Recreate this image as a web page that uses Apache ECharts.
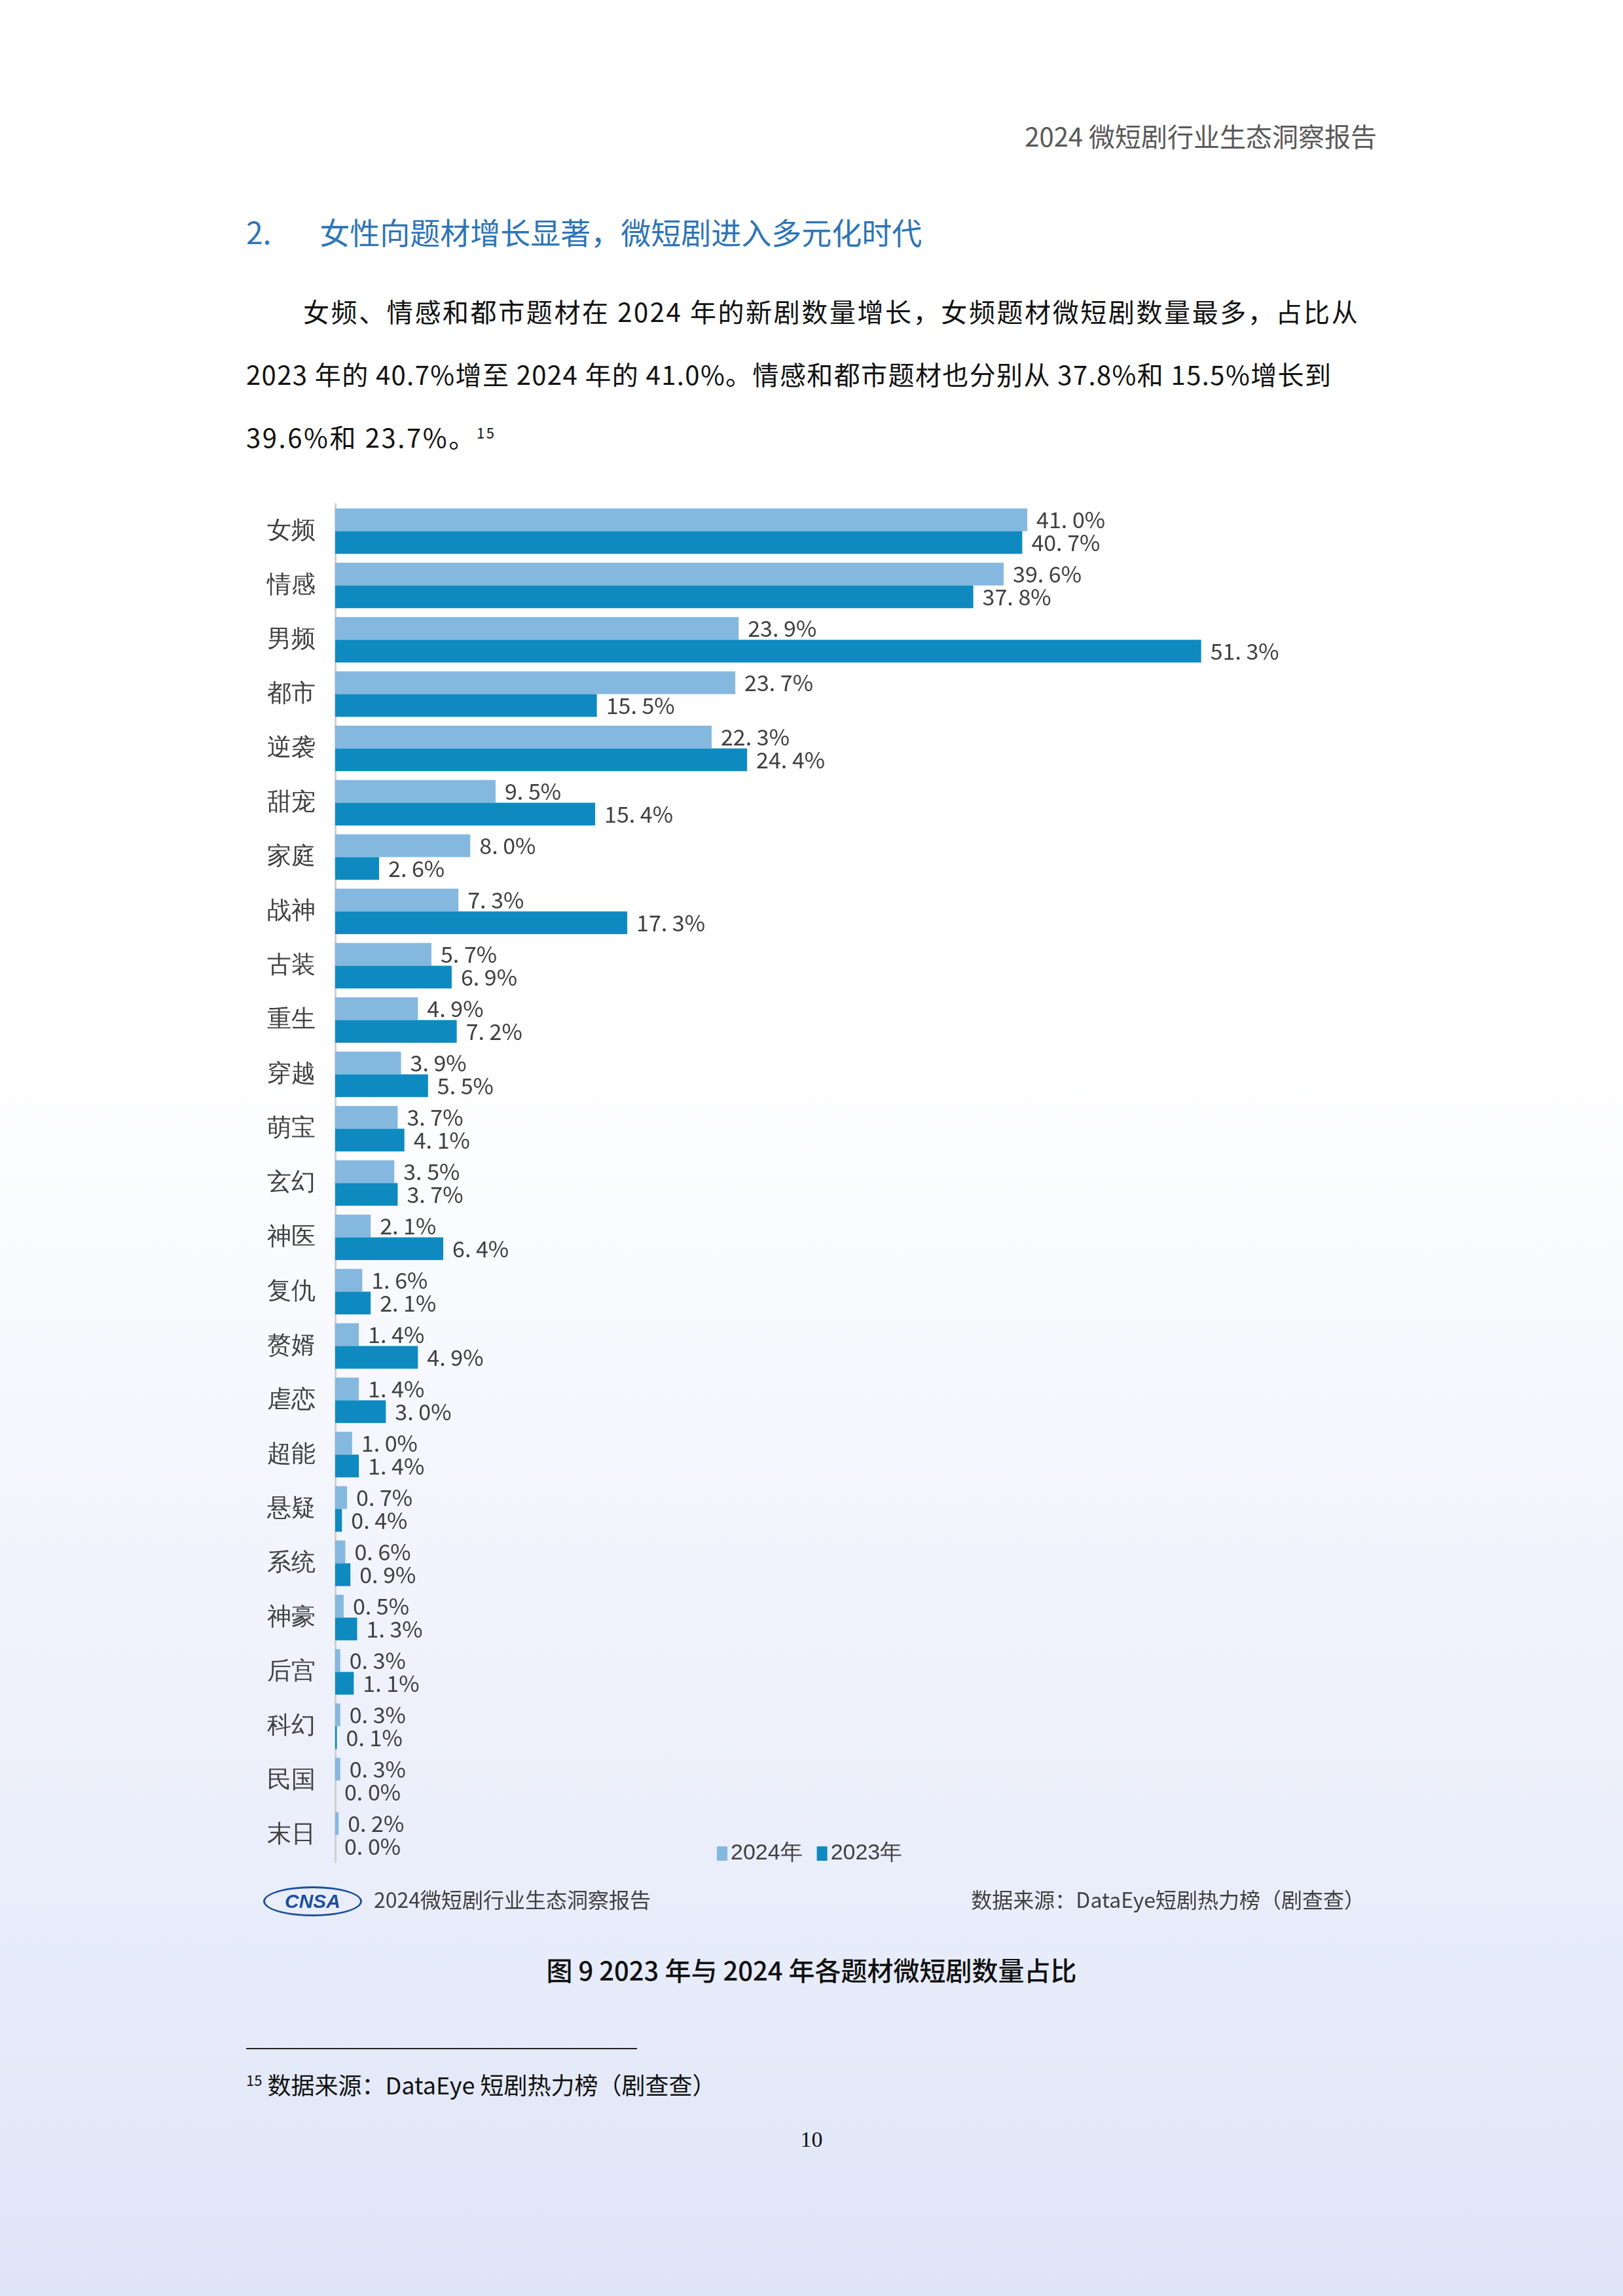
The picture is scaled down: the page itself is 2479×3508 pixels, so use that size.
<!DOCTYPE html>
<html><head><meta charset="utf-8">
<script src="https://cdn.jsdelivr.net/npm/echarts@6/dist/echarts.min.js"></script>
<style>
html,body{margin:0;padding:0;}
body{width:2479px;height:3508px;position:relative;background:linear-gradient(#ffffff 0%,#ffffff 45%,#dfe5f8 100%);font-family:"Noto Sans CJK SC",sans-serif;overflow:hidden;}
.t{position:absolute;white-space:nowrap;}
.p{letter-spacing:2.6px;}
#chart{position:absolute;left:0;top:720px;width:2479px;height:2250px;}
</style></head><body>
<div class="t" style="right:376px;top:178px;font-size:40px;color:#595959;">2024 微短剧行业生态洞察报告</div>
<div class="t" style="left:376px;top:320px;font-size:46px;color:#2e75b6;">2.<span style="display:inline-block;width:74px"></span>女性向题材增长显著，微短剧进入多元化时代</div>
<div class="t p" style="left:463px;top:446px;font-size:40px;color:#111;">女频、情感和都市题材在 2024 年的新剧数量增长，女频题材微短剧数量最多，占比从</div>
<div class="t p" style="left:376px;top:542px;font-size:40px;color:#111;letter-spacing:1.4px">2023 年的 40.7%增至 2024 年的 41.0%。情感和都市题材也分别从 37.8%和 15.5%增长到</div>
<div class="t p" style="left:376px;top:638px;font-size:40px;color:#111;">39.6%和 23.7%。<sup style="font-size:22px">15</sup></div>
<div id="chart"></div>
<div class="t" style="left:402px;top:2882px;width:145px;height:40px;border-radius:50%;border:3px solid #1c4fa0;color:#1c4fa0;font-weight:bold;font-style:italic;font-size:30px;line-height:40px;text-align:center;font-family:'Liberation Sans'">CNSA</div>
<div class="t" style="left:571px;top:2878px;font-size:32px;color:#404040;">2024微短剧行业生态洞察报告</div>
<div class="t" style="right:394px;top:2878px;font-size:32px;color:#404040;">数据来源：DataEye短剧热力榜（剧查查）</div>
<div class="t" style="left:0;width:2479px;text-align:center;top:2980px;font-size:40px;color:#111;font-weight:500;">图 9 2023 年与 2024 年各题材微短剧数量占比</div>
<div class="t" style="left:376px;top:3129px;width:597px;height:2px;background:#222;"></div>
<div class="t" style="left:376px;top:3158px;font-size:36px;color:#111;"><sup style="font-size:22px">15</sup> 数据来源：DataEye 短剧热力榜（剧查查）</div>
<div class="t" style="left:0;width:2479px;text-align:center;top:3250px;font-size:34px;color:#111;font-family:'Liberation Serif'">10</div>
<script>
const categories=["女频","情感","男频","都市","逆袭","甜宠","家庭","战神","古装","重生","穿越","萌宝","玄幻","神医","复仇","赘婿","虐恋","超能","悬疑","系统","神豪","后宫","科幻","民国","末日"];
const v2024=[41.0,39.6,23.9,23.7,22.3,9.5,8.0,7.3,5.7,4.9,3.9,3.7,3.5,2.1,1.6,1.4,1.4,1.0,0.7,0.6,0.5,0.3,0.3,0.3,0.2];
const v2023=[40.7,37.8,51.3,15.5,24.4,15.4,2.6,17.3,6.9,7.2,5.5,4.1,3.7,6.4,2.1,4.9,3.0,1.4,0.4,0.9,1.3,1.1,0.1,0.0,0.0];
const fmt=p=>p.value.toFixed(1).replace('.','. ')+'%';
const lbl={show:true,position:'right',distance:14,formatter:fmt,color:'#404040',fontSize:34,fontFamily:'Noto Sans CJK SC'};
const c=echarts.init(document.getElementById('chart'));
c.setOption({
 animation:false,
 grid:{left:512,top:50,width:1547,height:2075},
 legend:{data:['2024年','2023年'],left:1090,top:2090,itemWidth:16,itemHeight:22,itemGap:22,textStyle:{fontSize:34,color:'#404040'},icon:'rect'},
 xAxis:{type:'value',min:0,max:60,show:false},
 yAxis:{type:'category',data:categories,inverse:true,axisTick:{show:false},axisLine:{lineStyle:{color:'#d0d0d0',width:3}},axisLabel:{fontSize:37,color:'#404040',margin:30}},
 series:[
  {name:'2024年',type:'bar',data:v2024,itemStyle:{color:'#85b8df'},barGap:'0%',barCategoryGap:'16%',label:lbl},
  {name:'2023年',type:'bar',data:v2023,itemStyle:{color:'#0e8ac0'},label:lbl}
 ]
});
</script>
</body></html>
